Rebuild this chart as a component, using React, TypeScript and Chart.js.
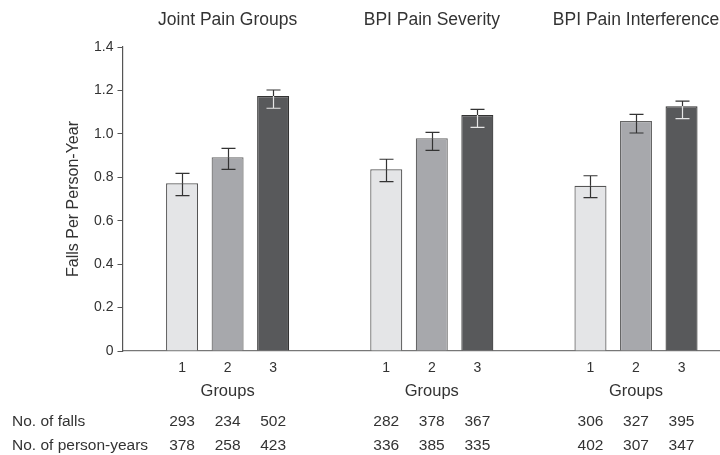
import React, { useEffect, useRef } from "react";
import { Chart, registerables } from "chart.js";

Chart.register(...registerables);

// ---- data ----
const panels = ["Joint Pain Groups", "BPI Pain Severity", "BPI Pain Interference"];
const groupLabels = ["1", "2", "3"];
const xTitle = "Groups";
const yTitle = "Falls Per Person-Year";
const yTicks = [0, 0.2, 0.4, 0.6, 0.8, 1.0, 1.2, 1.4];

// rate per panel, one array per group
const rateGroup1 = [0.772, 0.837, 0.761];
const rateGroup2 = [0.892, 0.98, 1.059];
const rateGroup3 = [1.174, 1.087, 1.127];
const lowerGroup1 = [0.716, 0.78, 0.706];
const lowerGroup2 = [0.836, 0.924, 1.004];
const lowerGroup3 = [1.118, 1.03, 1.07];
const upperGroup1 = [0.818, 0.883, 0.807];
const upperGroup2 = [0.933, 1.007, 1.09];
const upperGroup3 = [1.202, 1.113, 1.151];

const tableRowLabels = ["No. of falls", "No. of person-years"];
const fallsGroup1 = [293, 282, 306];
const fallsGroup2 = [234, 378, 327];
const fallsGroup3 = [502, 367, 395];
const personYearsGroup1 = [378, 336, 402];
const personYearsGroup2 = [258, 385, 307];
const personYearsGroup3 = [423, 335, 347];

// ---- styles ----
const FONT = "'Liberation Sans', Arial, Helvetica, sans-serif";
const TEXT = "#333333";
const fills = ["#e4e5e7", "#a7a8ac", "#58595b"];
const borders = ["#555555", "#666666", "#333333"];
const errInside = ["#333333", "#333333", "#e6e6e6"];
const AXIS_SHIFT = 3;

export default function App() {
  const ref = useRef<HTMLCanvasElement | null>(null);

  useEffect(() => {
    if (!ref.current) return;
    const rates = [rateGroup1, rateGroup2, rateGroup3];
    const lowers = [lowerGroup1, lowerGroup2, lowerGroup3];
    const uppers = [upperGroup1, upperGroup2, upperGroup3];
    const tableRows = [
      [fallsGroup1, fallsGroup2, fallsGroup3],
      [personYearsGroup1, personYearsGroup2, personYearsGroup3],
    ];

    const axisShift = {
      id: "axisShift",
      afterLayout(chart: any) {
        const y = chart.scales.y;
        const x = chart.scales.x;
        y.left -= AXIS_SHIFT;
        y.right -= AXIS_SHIFT;
        x.left -= AXIS_SHIFT;
      },
    };

    const errorBars = {
      id: "errorBars",
      afterDatasetsDraw(chart: any) {
        const ctx = chart.ctx;
        const y = chart.scales.y;
        ctx.save();
        ctx.lineWidth = 1.2;
        chart.data.datasets.forEach((_: any, i: number) => {
          const meta = chart.getDatasetMeta(i);
          meta.data.forEach((bar: any, j: number) => {
            const x = Math.round(bar.x) + 0.5;
            const yt = y.getPixelForValue(uppers[i][j]);
            const yb = y.getPixelForValue(lowers[i][j]);
            const yBar = bar.y;
            const cap = 7;
            ctx.strokeStyle = "#333333";
            ctx.beginPath();
            ctx.moveTo(x, yt);
            ctx.lineTo(x, yBar);
            ctx.moveTo(x - cap, yt);
            ctx.lineTo(x + cap, yt);
            ctx.stroke();
            ctx.strokeStyle = errInside[i];
            ctx.beginPath();
            ctx.moveTo(x, yBar);
            ctx.lineTo(x, yb);
            ctx.moveTo(x - cap, yb);
            ctx.lineTo(x + cap, yb);
            ctx.stroke();
          });
        });
        ctx.restore();
      },
    };

    const texts = {
      id: "panelTexts",
      afterDraw(chart: any) {
        const ctx = chart.ctx;
        const xs = chart.scales.x;
        ctx.save();
        ctx.fillStyle = TEXT;
        ctx.textBaseline = "middle";
        ctx.textAlign = "center";
        panels.forEach((p, j) => {
          const cx = xs.getPixelForValue(j);
          ctx.font = `17.5px ${FONT}`;
          ctx.fillText(p, cx, 20);
          ctx.font = `16.5px ${FONT}`;
          ctx.fillText(xTitle, cx, 391);
        });
        chart.data.datasets.forEach((_: any, i: number) => {
          const meta = chart.getDatasetMeta(i);
          meta.data.forEach((bar: any, j: number) => {
            ctx.textAlign = "center";
            ctx.font = `14px ${FONT}`;
            ctx.fillText(groupLabels[i], bar.x, 368);
            ctx.font = `15.5px ${FONT}`;
            ctx.fillText(String(tableRows[0][i][j]), bar.x, 422);
            ctx.fillText(String(tableRows[1][i][j]), bar.x, 446);
          });
        });
        ctx.textAlign = "left";
        ctx.font = `15.5px ${FONT}`;
        ctx.fillText(tableRowLabels[0], 12, 422);
        ctx.fillText(tableRowLabels[1], 12, 446);
        ctx.restore();
      },
    };

    const chart = new Chart(ref.current, {
      type: "bar",
      data: {
        labels: panels,
        datasets: rates.map((r, i) => ({
          label: groupLabels[i],
          data: r,
          backgroundColor: fills[i],
          borderColor: borders[i],
          borderWidth: 1.2,
          categoryPercentage: 0.669,
          barPercentage: 0.703,
        })),
      },
      options: {
        animation: false,
        responsive: false,
        layout: { padding: { top: 47, bottom: 104, left: 0, right: 3.9 } },
        plugins: { legend: { display: false }, tooltip: { enabled: false }, title: { display: false } },
        scales: {
          x: {
            type: "category",
            grid: { display: false, drawTicks: false },
            border: { display: true, color: "#777777", width: 1.2 },
            ticks: { display: false },
            afterFit: (s: any) => {
              s.height = 0;
            },
          },
          y: {
            min: 0,
            max: 1.4,
            afterBuildTicks: (s: any) => {
              s.ticks = yTicks.map((v) => ({ value: v }));
            },
            ticks: {
              color: TEXT,
              font: { family: FONT, size: 14 },
              padding: 4,
              callback: (v: any) => (Number(v) === 0 ? "0" : Number(v).toFixed(1)),
            },
            grid: { drawOnChartArea: false, drawTicks: true, tickLength: 5, color: "#555555" },
            border: { display: true, color: "#555555", width: 1.2 },
            title: {
              display: true,
              text: yTitle,
              color: TEXT,
              font: { family: FONT, size: 16 },
              padding: { top: 67, bottom: 0 },
            },
            afterFit: (s: any) => {
              s.width = 125.5;
            },
          },
        },
      },
      plugins: [axisShift, errorBars, texts],
    });
    return () => chart.destroy();
  }, []);

  return (
    <div
      style={{
        position: "fixed",
        left: 0,
        top: 0,
        width: 720,
        height: 455,
        overflow: "hidden",
        background: "#ffffff",
      }}
    >
      <canvas ref={ref} width={742} height={455} style={{ display: "block" }} />
    </div>
  );
}
